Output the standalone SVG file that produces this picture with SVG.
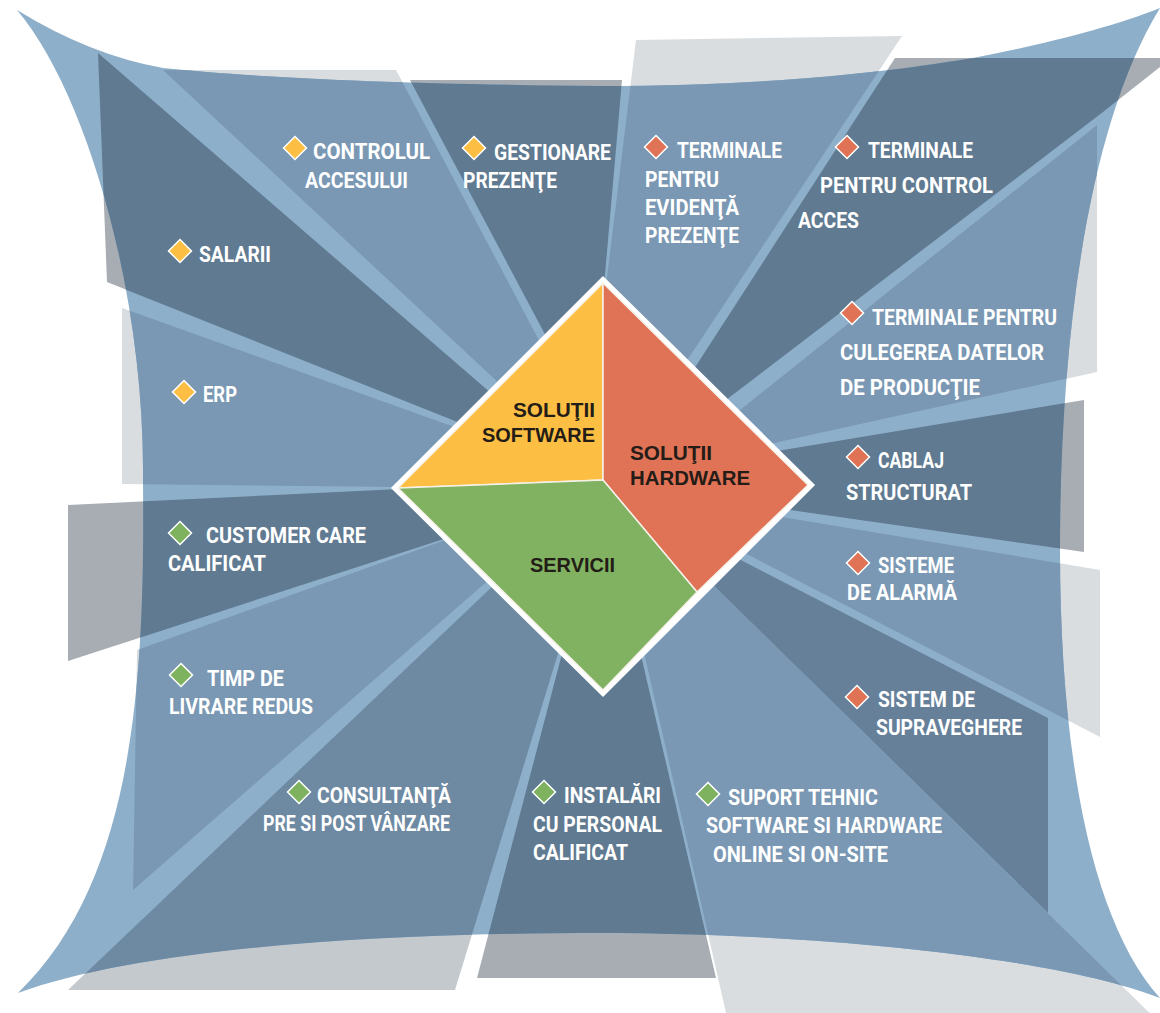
<svg xmlns="http://www.w3.org/2000/svg" xmlns:xlink="http://www.w3.org/1999/xlink" width="1160" height="1013" viewBox="0 0 1160 1013">
<style>
.sail{fill:#8eafca}
.sd{fill:#a7adb3}.sm{fill:#d9dde0}.sc{fill:#c4c9ce}
.bd{fill:#5f7a91}.bm{fill:#7a98b3}.bc{fill:#6e89a2}.bs{fill:#66809a}
.lbl{font-family:Roboto,"Liberation Sans",sans-serif;font-weight:700;font-size:22.5px;fill:#ffffff}
.ctr{font-family:"Liberation Sans",Arial,sans-serif;font-weight:700;font-size:20.5px;fill:#241c17}
.iy{fill:#fdbf43;stroke:#ffffff;stroke-width:1.5}
.ir{fill:#e07255;stroke:#ffffff;stroke-width:1.5}
.ig{fill:#7fb25f;stroke:#ffffff;stroke-width:1.5}
.sub{stroke:#f6f1e8;stroke-width:1.5;stroke-linejoin:round}
</style>
<defs>
<path id="sailShape" d="M17,10 Q90,55 163,68 C260,78 400,84 600,86 C780,86 900,70 973,58 C1040,45 1110,28 1160,8 C1085,130 1060,350 1060,550 C1060,750 1090,920 1160,998 C1050,955 800,933 600,933 C400,933 150,945 18,993 C135,880 145,680 143,480 C145,290 85,90 17,10 Z"/>
<clipPath id="sailClip"><path d="M17,10 Q90,55 163,68 C260,78 400,84 600,86 C780,86 900,70 973,58 C1040,45 1110,28 1160,8 C1085,130 1060,350 1060,550 C1060,750 1090,920 1160,998 C1050,955 800,933 600,933 C400,933 150,945 18,993 C135,880 145,680 143,480 C145,290 85,90 17,10 Z"/></clipPath>
<polygon id="b-erp" points="122,308 460,429 603,485 400,487 122,484"/>
<polygon id="b-salarii" points="98,53 492,394 603,485 465,425 107,282"/>
<polygon id="b-controlul" points="163,70 396,70 542,346 603,485 502,386"/>
<polygon id="b-gestionare" points="410,80 622,80 604,286 603,485 548,340"/>
<polygon id="b-evidenta" points="636,40 902,36 684,365 603,485 606,286"/>
<polygon id="b-control" points="895,58 1160,58 1160,67 1103,112 722,403 603,485 692,372"/>
<polygon id="b-culegerea" points="1097,125 1097,372 765,445 603,485 735,414"/>
<polygon id="b-cablaj" points="1084,400 1084,552 783,509 603,485 771,452"/>
<polygon id="b-sisteme" points="1100,570 1100,737 741,551 603,485 776,516"/>
<polygon id="b-suprav" points="1048,718 1048,913 710,582 603,485 735,557"/>
<polygon id="b-suport" points="710,582 1170,1033 726,1013 643,648 603,485"/>
<polygon id="b-instalari" points="563,650 477,978 716,978 640,651 603,485"/>
<polygon id="b-consult" points="68,990 455,990 560,647 603,485 496,583"/>
<polygon id="b-timp" points="137,650 451,538 603,485 491,578 133,890"/>
<polygon id="b-customer" points="68,505 400,489 603,485 450,537 68,661"/>
<path id="ico" d="M0,-11.5 L11.5,0 L0,11.5 L-11.5,0 Z"/>
</defs>

<g id="shadows">
<use xlink:href="#b-erp" class="sm"/>
<use xlink:href="#b-salarii" class="sd"/>
<use xlink:href="#b-controlul" class="sm"/>
<use xlink:href="#b-gestionare" class="sd"/>
<use xlink:href="#b-evidenta" class="sm"/>
<use xlink:href="#b-control" class="sd"/>
<use xlink:href="#b-culegerea" class="sm"/>
<use xlink:href="#b-cablaj" class="sd"/>
<use xlink:href="#b-sisteme" class="sm"/>
<use xlink:href="#b-suprav" class="sd"/>
<use xlink:href="#b-suport" class="sm"/>
<use xlink:href="#b-instalari" class="sd"/>
<use xlink:href="#b-consult" class="sc"/>
<use xlink:href="#b-timp" class="sm"/>
<use xlink:href="#b-customer" class="sd"/>
</g>

<use id="sail" xlink:href="#sailShape" class="sail"/>

<g id="bands" clip-path="url(#sailClip)">
<use xlink:href="#b-erp" class="bm"/>
<use xlink:href="#b-salarii" class="bd"/>
<use xlink:href="#b-controlul" class="bm"/>
<use xlink:href="#b-gestionare" class="bd"/>
<use xlink:href="#b-evidenta" class="bm"/>
<use xlink:href="#b-control" class="bd"/>
<use xlink:href="#b-culegerea" class="bm"/>
<use xlink:href="#b-cablaj" class="bd"/>
<use xlink:href="#b-sisteme" class="bm"/>
<use xlink:href="#b-suprav" class="bs"/>
<use xlink:href="#b-suport" class="bm"/>
<use xlink:href="#b-instalari" class="bd"/>
<use xlink:href="#b-consult" class="bc"/>
<use xlink:href="#b-timp" class="bm"/>
<use xlink:href="#b-customer" class="bd"/>
</g>

<g id="center-diamond">
<polygon points="603,283 808,485 603,690 398,488" fill="#ffffff" stroke="#ffffff" stroke-width="10" stroke-linejoin="miter"/>
<polygon id="seg-software" class="sub" points="603,283 603,480 398,488" fill="#fdbf43"/>
<polygon id="seg-hardware" class="sub" points="603,283 808,485 697,592 603,480" fill="#e07255"/>
<polygon id="seg-servicii" class="sub" points="398,488 603,480 697,592 603,690" fill="#80b261"/>
<text class="ctr" x="513" y="417" textLength="82" lengthAdjust="spacingAndGlyphs">SOLUŢII</text>
<text class="ctr" x="482" y="442" textLength="113" lengthAdjust="spacingAndGlyphs">SOFTWARE</text>
<text class="ctr" x="630" y="460" textLength="82" lengthAdjust="spacingAndGlyphs">SOLUŢII</text>
<text class="ctr" x="630" y="485" textLength="120" lengthAdjust="spacingAndGlyphs">HARDWARE</text>
<text class="ctr" x="530" y="572" textLength="85" lengthAdjust="spacingAndGlyphs">SERVICII</text>
</g>

<g id="label-controlul">
<use xlink:href="#ico" x="295" y="148" class="iy"/>
<text class="lbl" x="313" y="159" textLength="117" lengthAdjust="spacingAndGlyphs">CONTROLUL</text>
<text class="lbl" x="305" y="188" textLength="103" lengthAdjust="spacingAndGlyphs">ACCESULUI</text>
</g>
<g id="label-gestionare">
<use xlink:href="#ico" x="474" y="148" class="iy"/>
<text class="lbl" x="494" y="160" textLength="117" lengthAdjust="spacingAndGlyphs">GESTIONARE</text>
<text class="lbl" x="463" y="188" textLength="94" lengthAdjust="spacingAndGlyphs">PREZENŢE</text>
</g>
<g id="label-salarii">
<use xlink:href="#ico" x="180" y="251" class="iy"/>
<text class="lbl" x="199" y="262" textLength="72" lengthAdjust="spacingAndGlyphs">SALARII</text>
</g>
<g id="label-erp">
<use xlink:href="#ico" x="184" y="392" class="iy"/>
<text class="lbl" x="203" y="402" textLength="34" lengthAdjust="spacingAndGlyphs">ERP</text>
</g>
<g id="label-evidenta">
<use xlink:href="#ico" x="656" y="147" class="ir"/>
<text class="lbl" x="677" y="158" textLength="105" lengthAdjust="spacingAndGlyphs">TERMINALE</text>
<text class="lbl" x="645" y="187" textLength="74" lengthAdjust="spacingAndGlyphs">PENTRU</text>
<text class="lbl" x="645" y="215" textLength="94" lengthAdjust="spacingAndGlyphs">EVIDENŢĂ</text>
<text class="lbl" x="645" y="243" textLength="94" lengthAdjust="spacingAndGlyphs">PREZENŢE</text>
</g>
<g id="label-control-acces">
<use xlink:href="#ico" x="847" y="147" class="ir"/>
<text class="lbl" x="868" y="158" textLength="105" lengthAdjust="spacingAndGlyphs">TERMINALE</text>
<text class="lbl" x="820" y="193" textLength="173" lengthAdjust="spacingAndGlyphs">PENTRU CONTROL</text>
<text class="lbl" x="798" y="228" textLength="61" lengthAdjust="spacingAndGlyphs">ACCES</text>
</g>
<g id="label-culegerea">
<use xlink:href="#ico" x="852" y="313" class="ir"/>
<text class="lbl" x="872" y="325" textLength="185" lengthAdjust="spacingAndGlyphs">TERMINALE PENTRU</text>
<text class="lbl" x="840" y="360" textLength="204" lengthAdjust="spacingAndGlyphs">CULEGEREA DATELOR</text>
<text class="lbl" x="840" y="395" textLength="140" lengthAdjust="spacingAndGlyphs">DE PRODUCŢIE</text>
</g>
<g id="label-cablaj">
<use xlink:href="#ico" x="858" y="457" class="ir"/>
<text class="lbl" x="878" y="468" textLength="66" lengthAdjust="spacingAndGlyphs">CABLAJ</text>
<text class="lbl" x="846" y="500" textLength="126" lengthAdjust="spacingAndGlyphs">STRUCTURAT</text>
</g>
<g id="label-alarma">
<use xlink:href="#ico" x="858" y="563" class="ir"/>
<text class="lbl" x="878" y="573" textLength="76" lengthAdjust="spacingAndGlyphs">SISTEME</text>
<text class="lbl" x="847" y="600" textLength="110" lengthAdjust="spacingAndGlyphs">DE ALARMĂ</text>
</g>
<g id="label-supraveghere">
<use xlink:href="#ico" x="857" y="697" class="ir"/>
<text class="lbl" x="878" y="707" textLength="97" lengthAdjust="spacingAndGlyphs">SISTEM DE</text>
<text class="lbl" x="876" y="735" textLength="146" lengthAdjust="spacingAndGlyphs">SUPRAVEGHERE</text>
</g>
<g id="label-suport">
<use xlink:href="#ico" x="708" y="794" class="ig"/>
<text class="lbl" x="728" y="805" textLength="150" lengthAdjust="spacingAndGlyphs">SUPORT TEHNIC</text>
<text class="lbl" x="706" y="833" textLength="236" lengthAdjust="spacingAndGlyphs">SOFTWARE SI HARDWARE</text>
<text class="lbl" x="713" y="862" textLength="175" lengthAdjust="spacingAndGlyphs">ONLINE SI ON-SITE</text>
</g>
<g id="label-instalari">
<use xlink:href="#ico" x="544" y="792" class="ig"/>
<text class="lbl" x="564" y="803" textLength="97" lengthAdjust="spacingAndGlyphs">INSTALĂRI</text>
<text class="lbl" x="533" y="832" textLength="129" lengthAdjust="spacingAndGlyphs">CU PERSONAL</text>
<text class="lbl" x="533" y="860" textLength="95" lengthAdjust="spacingAndGlyphs">CALIFICAT</text>
</g>
<g id="label-consultanta">
<use xlink:href="#ico" x="299" y="792" class="ig"/>
<text class="lbl" x="317" y="803" textLength="134" lengthAdjust="spacingAndGlyphs">CONSULTANŢĂ</text>
<text class="lbl" x="263" y="831" textLength="187" lengthAdjust="spacingAndGlyphs">PRE SI POST VÂNZARE</text>
</g>
<g id="label-timp">
<use xlink:href="#ico" x="181" y="675" class="ig"/>
<text class="lbl" x="207" y="686" textLength="77" lengthAdjust="spacingAndGlyphs">TIMP DE</text>
<text class="lbl" x="169" y="714" textLength="144" lengthAdjust="spacingAndGlyphs">LIVRARE REDUS</text>
</g>
<g id="label-customer">
<use xlink:href="#ico" x="180" y="533" class="ig"/>
<text class="lbl" x="206" y="543" textLength="160" lengthAdjust="spacingAndGlyphs">CUSTOMER CARE</text>
<text class="lbl" x="168" y="571" textLength="98" lengthAdjust="spacingAndGlyphs">CALIFICAT</text>
</g>
</svg>
